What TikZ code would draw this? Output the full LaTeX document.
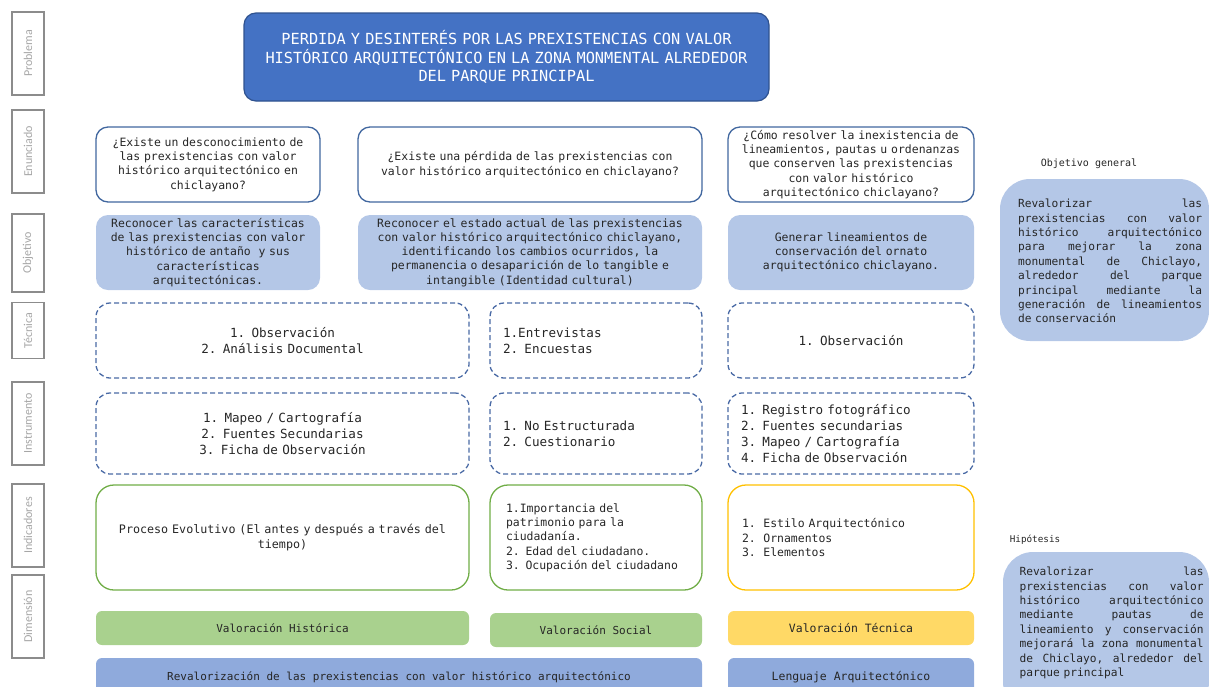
\documentclass[tikz,border=0pt]{standalone}
\usepackage{fontspec}
\setmainfont{DejaVu Sans Mono}
\newfontfamily\lblfont{Carlito}

\definecolor{titleblue}{HTML}{4472C4}
\definecolor{titleline}{HTML}{2F528F}
\definecolor{qline}{HTML}{41679F}
\definecolor{objfill}{HTML}{B4C7E7}
\definecolor{dashline}{HTML}{4A6AA5}
\definecolor{grnline}{HTML}{70AD47}
\definecolor{grnfill}{HTML}{A9D18E}
\definecolor{goldline}{HTML}{FFC000}
\definecolor{goldfill}{HTML}{FFD966}
\definecolor{baseblue}{HTML}{8FAADC}
\definecolor{lblgray}{HTML}{8C8C8C}
\definecolor{lbltext}{HTML}{A6A6A6}

\newcommand{\fsz}[2]{\fontsize{#1pt}{#2pt}\selectfont}
\newcommand{\jl}[1]{\leavevmode\hbox to\linewidth{#1}}

\begin{document}
\begin{tikzpicture}[x=1pt, y=-1pt, text=black!85,
    every node/.style={inner sep=0pt, outer sep=0pt},
    lbl/.style={draw=lblgray, line width=1.1pt, rotate=90, minimum height=32,
      text=lbltext, font=\lblfont\fsz{12}{14}},
    probbox/.style={fill=titleblue, draw=titleline, line width=1.2pt,
      rounded corners=12, text=white, align=center, font=\fsz{15.3}{18.5}},
    qbox/.style={draw=qline, line width=1.3pt, rounded corners=12, fill=white,
      align=center, font=\fsz{11.45}{14.3}},
    obox/.style={fill=objfill, rounded corners=12, align=center, font=\fsz{11.45}{14.3}},
    dbox/.style={draw=dashline, line width=1.3pt, dash pattern=on 5pt off 3pt,
      rounded corners=14, font=\fsz{12.6}{16}},
    gbox/.style={draw=grnline, line width=1.3pt, rounded corners=18, font=\fsz{11.45}{14.3}},
    ybox/.style={draw=goldline, line width=1.3pt, rounded corners=18, font=\fsz{11.45}{14.3}},
    vbox/.style={rounded corners=6, align=center, font=\fsz{11}{14}},
    sidebox/.style={fill=objfill, rounded corners=30},
    sidetext/.style={text width=184, align=left, font=\fsz{11.2}{14.4}}]

  \useasboundingbox (0,0) rectangle (1209,686);
  \clip (0,0) rectangle (1209,686);

  % Row labels on the left
  \node[lbl, minimum width=83] (lprob) at (28,53.5) {Problema};
  \node[lbl, minimum width=83] (lenun) at (28,151.5) {Enunciado};
  \node[lbl, minimum width=78] (lobj) at (28,253) {Objetivo};
  \node[lbl, minimum width=56] (ltec) at (28,330.5) {Técnica};
  \node[lbl, minimum width=83] (linst) at (28,423.5) {Instrumento};
  \node[lbl, minimum width=83] (lind) at (28,525.5) {Indicadores};
  \node[lbl, minimum width=83] (ldim) at (28,616.5) {Dimensión};

  % Problem
  \node[probbox, minimum width=525, minimum height=88, text width=510] (prob) at (506.5,57)
    {PERDIDA Y DESINTERÉS POR LAS PREXISTENCIAS CON VALOR\\HISTÓRICO ARQUITECTÓNICO EN LA ZONA MONMENTAL ALREDEDOR\\DEL PARQUE PRINCIPAL};

  % Questions
  \node[qbox, minimum width=224, minimum height=75, text width=215] (q1) at (208,164.5)
    {¿Existe un desconocimiento de\\las prexistencias con valor\\histórico arquitectónico en\\chiclayano?};
  \node[qbox, minimum width=344, minimum height=75, text width=330] (q2) at (530,164.5)
    {¿Existe una pérdida de las prexistencias con\\valor histórico arquitectónico en chiclayano?};
  \node[qbox, minimum width=246, minimum height=75, text width=236] (q3) at (851,164.5)
    {¿Cómo resolver la inexistencia de\\lineamientos, pautas u ordenanzas\\que conserven las prexistencias\\con valor histórico\\arquitectónico chiclayano?};

  % Objectives
  \node[obox, minimum width=224, minimum height=75, text width=215] (o1) at (208,252.5)
    {Reconocer las características\\de las prexistencias con valor\\histórico de antaño~ y sus\\características\\arquitectónicas.};
  \node[obox, minimum width=344, minimum height=75, text width=330] (o2) at (530,252.5)
    {Reconocer el estado actual de las prexistencias\\con valor histórico arquitectónico chiclayano,\\identificando los cambios ocurridos, la\\permanencia o desaparición de lo tangible e\\intangible (Identidad cultural)};
  \node[obox, minimum width=246, minimum height=75, text width=236] (o3) at (851,252.5)
    {Generar lineamientos de\\conservación del ornato\\arquitectónico chiclayano.};

  % Techniques
  \node[dbox, minimum width=373, minimum height=75, text width=340, align=center] (t1) at (282.5,340.5)
    {1. Observación\\2. Análisis Documental};
  \node[dbox, minimum width=212, minimum height=75, text width=186, align=left] (t2) at (596,340.5)
    {1.Entrevistas\\2. Encuestas};
  \node[dbox, minimum width=246, minimum height=75, text width=220, align=center] (t3) at (851,340.5)
    {1. Observación};

  % Instruments
  \node[dbox, minimum width=373, minimum height=81, text width=340, align=center] (i1) at (282.5,433.5)
    {1. Mapeo / Cartografía\\2. Fuentes Secundarias\\3. Ficha de Observación};
  \node[dbox, minimum width=212, minimum height=81, text width=186, align=left] (i2) at (596,433.5)
    {1. No Estructurada\\2. Cuestionario};
  \node[dbox, minimum width=246, minimum height=81, text width=220, align=left] (i3) at (851,433.5)
    {1. Registro fotográfico\\2. Fuentes secundarias\\3. Mapeo / Cartografía\\4. Ficha de Observación};

  % Indicators
  \node[gbox, minimum width=373, minimum height=105, text width=350, align=center,
    font=\fsz{11.7}{15}] (d1) at (282.5,537.5)
    {Proceso Evolutivo (El antes y después a través del\\tiempo)};
  \node[gbox, minimum width=212, minimum height=105, text width=180, align=left] (d2) at (596,537.5)
    {1.Importancia del\\patrimonio para la\\ciudadanía.\\2. Edad del ciudadano.\\3. Ocupación del ciudadano};
  \node[ybox, minimum width=246, minimum height=105, text width=218, align=left] (d3) at (851,537.5)
    {1.~~Estilo Arquitectónico\\2.~~Ornamentos\\3.~~Elementos};

  % Dimensions
  \node[vbox, fill=grnfill, minimum width=373, minimum height=34] (v1) at (282.5,628)
    {Valoración Histórica};
  \node[vbox, fill=grnfill, minimum width=212, minimum height=34] (v2) at (596,630)
    {Valoración Social};
  \node[vbox, fill=goldfill, minimum width=246, minimum height=34, font=\fsz{11.45}{14.3}] (v3) at (851,628)
    {Valoración Técnica};

  % Base row
  \node[vbox, fill=baseblue, minimum width=606, minimum height=38] (b1) at (399,677)
    {Revalorización de las prexistencias con valor histórico arquitectónico};
  \node[vbox, fill=baseblue, minimum width=246, minimum height=38, font=\fsz{11.45}{14.3}] (b2) at (851,677)
    {Lenguaje Arquitectónico};

  % General objective and hypothesis
  \node[font=\fsz{10}{12}] (genlbl) at (1089,164) {Objetivo general};
  \node[sidebox, minimum width=209, minimum height=162] (gen) at (1104.5,260) {};
  \node[sidetext] (gentxt) at (1110,261)
    {\jl{Revalorizar\hfill las}\\\jl{prexistencias\hfill con\hfill valor}\\\jl{histórico\hfill arquitectónico}\\\jl{para\hfill mejorar\hfill la\hfill zona}\\\jl{monumental\hfill de\hfill Chiclayo,}\\\jl{alrededor\hfill del\hfill parque}\\\jl{principal\hfill mediante\hfill la}\\\jl{generación\hfill de\hfill lineamientos}\\de conservación};

  \node[font=\fsz{9.3}{12}] (hiplbl) at (1035,540) {Hipótesis};
  \node[sidebox, minimum width=206, minimum height=160] (hip) at (1106,632) {};
  \node[sidetext] (hiptxt) at (1111.5,623)
    {\jl{Revalorizar\hfill las}\\\jl{prexistencias\hfill con\hfill valor}\\\jl{histórico\hfill arquitectónico}\\\jl{mediante\hfill pautas\hfill de}\\\jl{lineamiento\hfill y\hfill conservación}\\\jl{mejorará\hfill la\hfill zona\hfill monumental}\\\jl{de\hfill Chiclayo,\hfill alrededor\hfill del}\\parque principal};
\end{tikzpicture}
\end{document}
